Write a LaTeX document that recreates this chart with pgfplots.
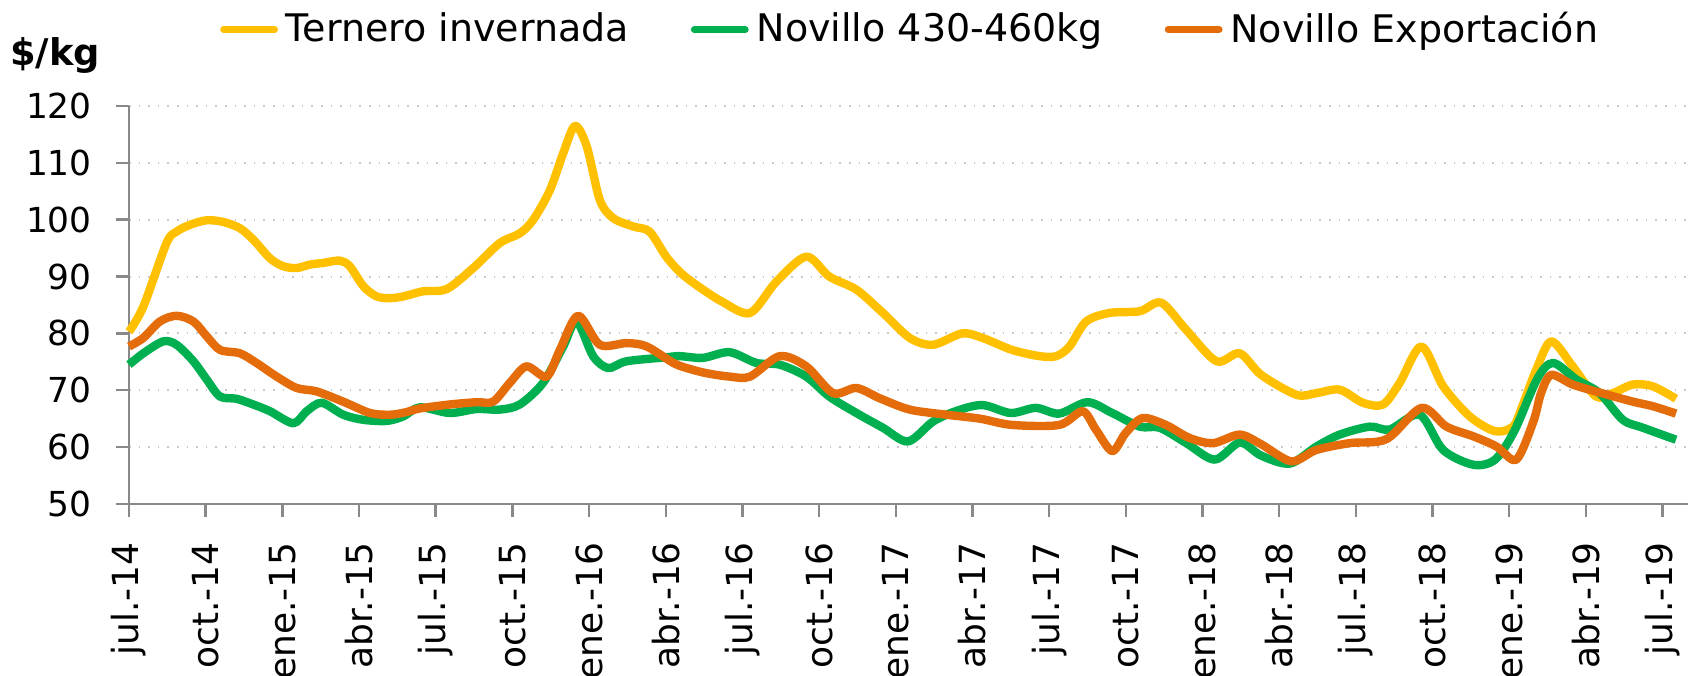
\documentclass[border=0pt]{standalone}
\usepackage{pgfplots}
\pgfplotsset{compat=1.18}
\usepackage{fontspec}
\setmainfont{DejaVu Sans}
\definecolor{cYel}{HTML}{FFC000}
\definecolor{cGrn}{HTML}{00B050}
\definecolor{cOra}{HTML}{E46C0A}
\definecolor{axgray}{RGB}{137,137,137}
\definecolor{gridgray}{RGB}{200,200,200}
\begin{document}
\fontsize{9.2}{11}\selectfont
\begin{tikzpicture}
\begin{axis}[
  name=ax,
  scale only axis,
  width=389.75pt, height=99.5pt,
  xmin=0, xmax=61, ymin=50, ymax=120,
  xtick={0,3,...,60},
  xticklabels={jul.-14,oct.-14,ene.-15,abr.-15,jul.-15,oct.-15,ene.-16,abr.-16,jul.-16,oct.-16,ene.-17,abr.-17,jul.-17,oct.-17,ene.-18,abr.-18,jul.-18,oct.-18,ene.-19,abr.-19,jul.-19},
  xticklabel style={yshift=-3pt, rotate=90, anchor=east, font=\fontsize{9}{11}\selectfont},
  ytick={50,60,...,120},
  yticklabel style={xshift=-2.75pt, anchor=east, font=\fontsize{8.6}{10}\selectfont},
  /pgf/number format/assume math mode=true,
  ymajorgrids,
  grid style={dotted, color=gridgray, line width=0.5pt},
  axis x line*=bottom, axis y line*=left,
  tick align=outside,
  major tick length=3.3pt,
  axis line style={axgray, line width=0.6pt, -},
  tick style={axgray, line width=0.6pt},
  legend columns=3,
  legend style={at={(0.503,1.192)}, anchor=center, draw=none, fill=none,
    font=\fontsize{9.5}{11}\selectfont,
    /tikz/every even column/.append style={column sep=13.5pt},
    inner sep=0pt},
  legend image code/.code={\draw[line width=1.7pt, line cap=round] (0pt,0pt) -- (12.75pt,0pt);},
  every axis plot/.append style={line width=2.1pt, smooth, no markers, line join=round},
  clip=false,
]
\addplot[cYel] coordinates {
(0,80.3) (0.56,84.7) (1.47,95.9) (1.86,97.9) (2.39,99.1) (3.04,99.9) (3.69,99.6)
(4.34,98.5) (4.86,96.5) (5.52,93.2) (6.04,91.8) (6.56,91.5) (7.08,92.1) (7.6,92.4)
(8.25,92.8) (8.64,91.8) (9.17,88.3) (9.69,86.5) (10.21,86.2) (10.73,86.5) (11.5,87.4)
(12.43,87.8) (13.47,91.5) (14.51,95.9) (15.29,97.6) (15.82,100.0) (16.47,105.2)
(16.99,111.7) (17.45,116.5) (17.91,112.9) (18.42,103.5) (18.94,100.3) (19.73,98.8)
(20.37,97.9) (21.02,93.5) (21.6,90.6) (22.3,88.2) (23.2,85.6) (24.3,83.6) (25.33,89.1)
(26.5,93.5) (27.4,90.0) (28.46,87.7) (29.5,83.6) (30.55,79.2) (31.46,78.0) (32.6,80.0)
(33.4,79.2) (34.55,77.1) (35.63,76.0) (36.28,76.0) (36.8,77.7) (37.45,82.1) (38.37,83.6)
(39.55,83.9) (40.39,85.4) (41.37,80.6) (42.55,75.1) (43.46,76.5) (44.3,72.7) (45.68,69.2)
(46.46,69.5) (47.37,70.1) (48.28,67.8) (49.07,67.5) (49.72,71.3) (50.57,77.7) (51.42,70.7)
(52.46,65.4) (53.45,62.8) (54.15,63.6) (54.5,67.0) (55.06,73.6) (55.65,78.6) (56.49,74.2)
(57.4,68.9) (58.06,69.5) (58.84,71.0) (59.62,70.7) (60.53,68.5)
};
\addlegendentry{Ternero invernada}
\addplot[cGrn] coordinates {
(0,74.5) (0.56,76.5) (1.34,78.6) (1.86,78.0) (2.52,75.1) (3.04,71.9) (3.56,68.9)
(4.21,68.5) (4.86,67.5) (5.52,66.3) (6.43,64.2) (6.95,66.3) (7.54,67.8) (8.38,65.7)
(9.17,64.8) (10.08,64.6) (10.73,65.4) (11.38,67.0) (12.55,66.0) (13.6,66.7) (14.51,66.6)
(15.29,67.5) (16.2,71.3) (16.99,77.7) (17.51,82.1) (18.16,76.0) (18.75,73.9) (19.47,75.1)
(21.02,75.8) (21.55,76.0) (22.46,75.7) (23.5,76.7) (24.55,74.8) (25.46,74.5) (26.5,72.4)
(27.4,68.9) (28.46,66.0) (29.5,63.4) (30.48,61.0) (31.46,64.5) (32.4,66.4) (33.4,67.4)
(34.5,66.0) (35.48,66.9) (36.4,65.9) (37.5,67.9) (38.47,66.0) (39.55,63.6) (40.33,63.4)
(41.37,60.7) (42.48,57.8) (43.46,60.8) (44.3,58.5) (45.42,57.1) (46.46,60.1) (47.37,62.2)
(48.55,63.6) (49.33,63.1) (50.5,65.7) (51.42,59.5) (52.6,56.9) (53.45,57.8) (54.2,62.8)
(55.1,72.0) (55.72,74.8) (56.63,71.9) (57.54,69.5) (58.45,64.8) (59.24,63.4) (60.53,61.3)
};
\addlegendentry{Novillo 430-460kg}
\addplot[cOra] coordinates {
(0,77.7) (0.56,79.2) (1.21,82.1) (1.86,83.1) (2.52,82.1) (3.04,79.5) (3.56,77.1)
(4.34,76.5) (4.99,74.8) (5.78,72.4) (6.56,70.4) (7.34,69.8) (8.38,68.0) (9.43,66.0)
(10.21,65.7) (10.8,66.1) (11.38,66.8) (12.55,67.5) (13.6,67.9) (14.25,68.0) (14.9,71.3)
(15.55,74.2) (16.34,72.4) (16.86,77.1) (17.57,83.1) (18.42,78.0) (19.47,78.3) (20.26,77.7)
(21.3,74.8) (21.9,73.8) (22.6,73.0) (23.5,72.4) (24.3,72.4) (25.46,76.0) (26.5,74.2)
(27.55,69.5) (28.46,70.4) (29.37,68.6) (30.55,66.6) (31.98,65.7) (33.3,65.0) (34.55,63.9)
(36.4,63.9) (37.31,66.3) (37.83,63.1) (38.47,59.3) (39.0,62.5) (39.66,65.1) (40.57,63.9)
(41.5,61.6) (42.42,60.7) (43.46,62.2) (44.3,60.5) (45.48,57.5) (46.46,59.5) (47.76,60.7)
(49.2,61.4) (50.57,66.9) (51.55,63.6) (52.6,61.9) (53.51,60.1) (54.28,57.8) (54.95,64.5)
(55.25,69.5) (55.65,72.7) (56.49,71.0) (57.54,69.6) (58.84,68.0) (59.62,67.2) (60.53,65.9)
};
\addlegendentry{Novillo Exportación}
\coordinate (ll) at (rel axis cs:0,0);
\coordinate (ur) at (rel axis cs:1,1);
\node[font=\bfseries\fontsize{9.2}{11}\selectfont, anchor=center] at ([xshift=-18.5pt,yshift=12.5pt]rel axis cs:0,1) {\$/kg};
\end{axis}
\pgfresetboundingbox
\path ([xshift=-32.25pt,yshift=-42.9pt]ll) rectangle ([xshift=3.5pt,yshift=26.5pt]ur);
\end{tikzpicture}
\end{document}
